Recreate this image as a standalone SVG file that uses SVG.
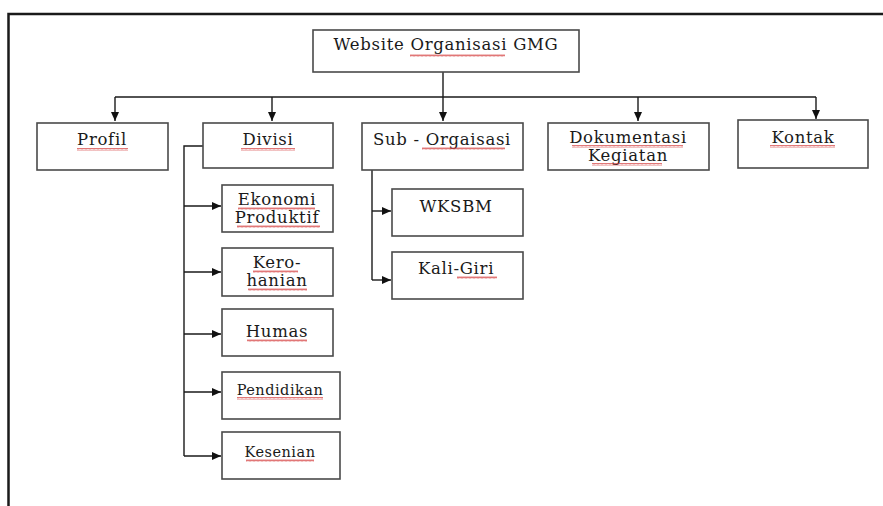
<svg xmlns="http://www.w3.org/2000/svg" width="883" height="506" viewBox="0 0 883 506">
<style>
.box{fill:#fff;stroke:#4a4a4a;stroke-width:1.6}
.t{font-family:"DejaVu Serif","Liberation Serif",serif;font-size:16.5px;letter-spacing:0.7px;fill:#1a1a1a;text-anchor:middle}
.s{font-size:14.5px;letter-spacing:0.5px}
.c{fill:none;stroke:#1a1a1a;stroke-width:1.4}
.sq{fill:url(#wave)}
</style>
<defs>
<marker id="ah" markerWidth="10" markerHeight="10" refX="9" refY="5" orient="auto" markerUnits="userSpaceOnUse">
<path d="M0,1 L9,5 L0,9 Z" fill="#111"/>
</marker>
<pattern id="wave" width="4" height="3" patternUnits="userSpaceOnUse">
<path d="M0,2.5 L1,0.5 L2,2.5 L3,0.5 L4,2.5" fill="none" stroke="#d43c3c" stroke-width="0.7"/>
</pattern>
</defs>
<rect width="883" height="506" fill="#fff"/>
<path d="M8.5,506 V14 H883" fill="none" stroke="#1a1a1a" stroke-width="2.5"/>

<g id="connectors">
<path class="c" d="M443,72 V121" marker-end="url(#ah)"/>
<path class="c" d="M115,97 H816"/>
<path class="c" d="M115,97 V121" marker-end="url(#ah)"/>
<path class="c" d="M272,97 V121" marker-end="url(#ah)"/>
<path class="c" d="M638,97 V121" marker-end="url(#ah)"/>
<path class="c" d="M816,97 V119" marker-end="url(#ah)"/>
<path class="c" d="M203,146 H184 V456"/>
<path class="c" d="M184,206 H221" marker-end="url(#ah)"/>
<path class="c" d="M184,272 H221" marker-end="url(#ah)"/>
<path class="c" d="M184,334 H221" marker-end="url(#ah)"/>
<path class="c" d="M184,392 H221" marker-end="url(#ah)"/>
<path class="c" d="M184,456 H221" marker-end="url(#ah)"/>
<path class="c" d="M372,170 V280"/>
<path class="c" d="M372,211 H391" marker-end="url(#ah)"/>
<path class="c" d="M372,280 H391" marker-end="url(#ah)"/>
</g>

<g id="website">
<rect class="box" x="313" y="30" width="266" height="42"/>
<text class="t" x="446" y="50">Website Organisasi GMG</text>
<rect class="sq" x="410" y="54" width="95" height="3"/>
</g>
<g id="profil">
<rect class="box" x="37" y="123" width="131" height="47"/>
<text class="t" x="102" y="145">Profil</text>
<rect class="sq" x="77" y="148" width="51" height="3"/>
</g>
<g id="divisi">
<rect class="box" x="203" y="123" width="130" height="45"/>
<text class="t" x="268" y="145">Divisi</text>
<rect class="sq" x="241" y="148" width="54" height="3"/>
</g>
<g id="sub-organisasi">
<rect class="box" x="362" y="123" width="161" height="47"/>
<text class="t" x="442" y="145">Sub - Orgaisasi</text>
<rect class="sq" x="422" y="147" width="83" height="3"/>
</g>
<g id="dokumentasi">
<rect class="box" x="548" y="123" width="161" height="47"/>
<text class="t" x="628" y="143">Dokumentasi</text>
<text class="t" x="628" y="161">Kegiatan</text>
<rect class="sq" x="572" y="145" width="111" height="3"/>
<rect class="sq" x="592" y="163" width="70" height="3"/>
</g>
<g id="kontak">
<rect class="box" x="738" y="120" width="130" height="48"/>
<text class="t" x="803" y="143">Kontak</text>
<rect class="sq" x="770" y="145" width="65" height="3"/>
</g>
<g id="ekonomi">
<rect class="box" x="222" y="185" width="111" height="47"/>
<text class="t" x="277" y="205">Ekonomi</text>
<text class="t" x="277" y="223">Produktif</text>
<rect class="sq" x="238" y="207" width="77" height="3"/>
<rect class="sq" x="237" y="225" width="83" height="3"/>
</g>
<g id="kerohanian">
<rect class="box" x="222" y="248" width="111" height="48"/>
<text class="t" x="277" y="268">Kero-</text>
<text class="t" x="277" y="286">hanian</text>
<rect class="sq" x="253" y="270" width="45" height="3"/>
<rect class="sq" x="248" y="288" width="59" height="3"/>
</g>
<g id="humas">
<rect class="box" x="222" y="309" width="111" height="47"/>
<text class="t" x="277" y="337">Humas</text>
<rect class="sq" x="247" y="339" width="60" height="3"/>
</g>
<g id="pendidikan">
<rect class="box" x="222" y="372" width="118" height="47"/>
<text class="t s" x="280" y="395">Pendidikan</text>
<rect class="sq" x="237" y="397" width="86" height="3"/>
</g>
<g id="kesenian">
<rect class="box" x="222" y="432" width="118" height="47"/>
<text class="t s" x="280" y="457">Kesenian</text>
<rect class="sq" x="246" y="459" width="68" height="3"/>
</g>
<g id="wksbm">
<rect class="box" x="392" y="189" width="131" height="47"/>
<text class="t" x="456" y="212">WKSBM</text>
</g>
<g id="kali-giri">
<rect class="box" x="392" y="252" width="131" height="47"/>
<text class="t" x="456" y="274">Kali-Giri</text>
<rect class="sq" x="457" y="276" width="40" height="3"/>
</g>
</svg>
